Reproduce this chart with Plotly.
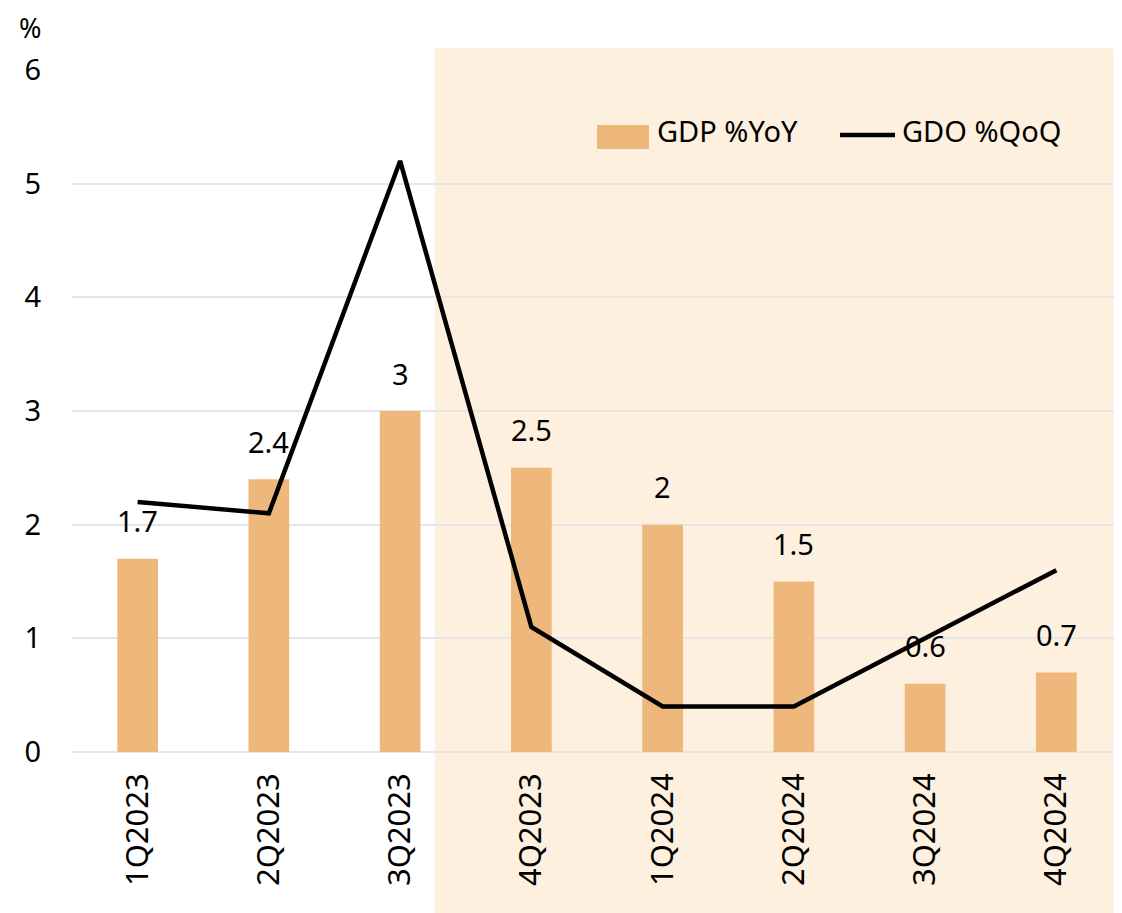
import plotly.graph_objects as go

categories = ["1Q2023", "2Q2023", "3Q2023", "4Q2023", "1Q2024", "2Q2024", "3Q2024", "4Q2024"]
gdp_yoy = [1.7, 2.4, 3.0, 2.5, 2.0, 1.5, 0.6, 0.7]
gdp_labels = ["1.7", "2.4", "3", "2.5", "2", "1.5", "0.6", "0.7"]
gdo_qoq = [2.2, 2.1, 5.2, 1.1, 0.4, 0.4, 1.0, 1.6]
y_ticks = [0, 1, 2, 3, 4, 5, 6]

FONT = "Noto Sans"
FS = 29
BAR_COLOR = "#EEB77B"

fig = go.Figure()
fig.add_trace(go.Bar(
    x=categories, y=gdp_yoy, name="GDP %YoY",
    marker=dict(color=BAR_COLOR, line=dict(width=0)),
    width=0.31, showlegend=False,
))
fig.add_trace(go.Scatter(
    x=categories, y=gdo_qoq, name="GDO %QoQ", mode="lines",
    line=dict(color="black", width=4.5), showlegend=False,
))

for c, v, t in zip(categories, gdp_yoy, gdp_labels):
    fig.add_annotation(x=c, y=v, text=t, showarrow=False, yshift=38, yanchor="middle",
                       font=dict(size=FS, color="black", family=FONT))

# shaded forecast region
fig.add_shape(type="rect", xref="x", yref="paper", x0=2.263, x1=7.436, y0=-0.3, y1=1.032,
              fillcolor="#FEF0DF", line=dict(width=0), layer="below")

# legend (drawn manually to match swatch shapes)
fig.add_shape(type="rect", xref="paper", yref="paper", x0=0.5, x1=0.5495, y0=0.8842, y1=0.9194,
              fillcolor=BAR_COLOR, line=dict(width=0))
fig.add_annotation(xref="paper", yref="paper", x=0.5552, y=0.9106, text="GDP %YoY", showarrow=False,
                   xanchor="left", yanchor="middle", font=dict(size=FS, color="black", family=FONT))
fig.add_shape(type="line", xref="paper", yref="paper", x0=0.7314, x1=0.7838, y0=0.9047, y1=0.9047,
              line=dict(color="black", width=4.5))
fig.add_annotation(xref="paper", yref="paper", x=0.7886, y=0.9106, text="GDO %QoQ", showarrow=False,
                   xanchor="left", yanchor="middle", font=dict(size=FS, color="black", family=FONT))

fig.add_annotation(xref="paper", yref="paper", x=-0.04, y=1.063, text="%", showarrow=False,
                   xanchor="center", yanchor="middle", font=dict(size=FS - 2, color="black", family=FONT))

fig.update_layout(
    width=1122, height=913,
    margin=dict(l=64, r=8, t=62, b=169),
    plot_bgcolor="rgba(0,0,0,0)", paper_bgcolor="white",
    font=dict(family=FONT, size=FS, color="black"),
    showlegend=False,
    xaxis=dict(tickangle=-90, showgrid=False, showline=False, ticks="",
               tickfont=dict(size=31), ticklabelstandoff=14, range=[-0.5, 7.5]),
    yaxis=dict(range=[0, 6], tickvals=y_ticks, showgrid=True, gridcolor="#E6E6E6", gridwidth=2,
               zeroline=True, zerolinecolor="#E6E6E6", zerolinewidth=2,
               showline=False, ticks="", ticklabelstandoff=30, tickfont=dict(size=FS)),
)

fig.write_html("out.html")
